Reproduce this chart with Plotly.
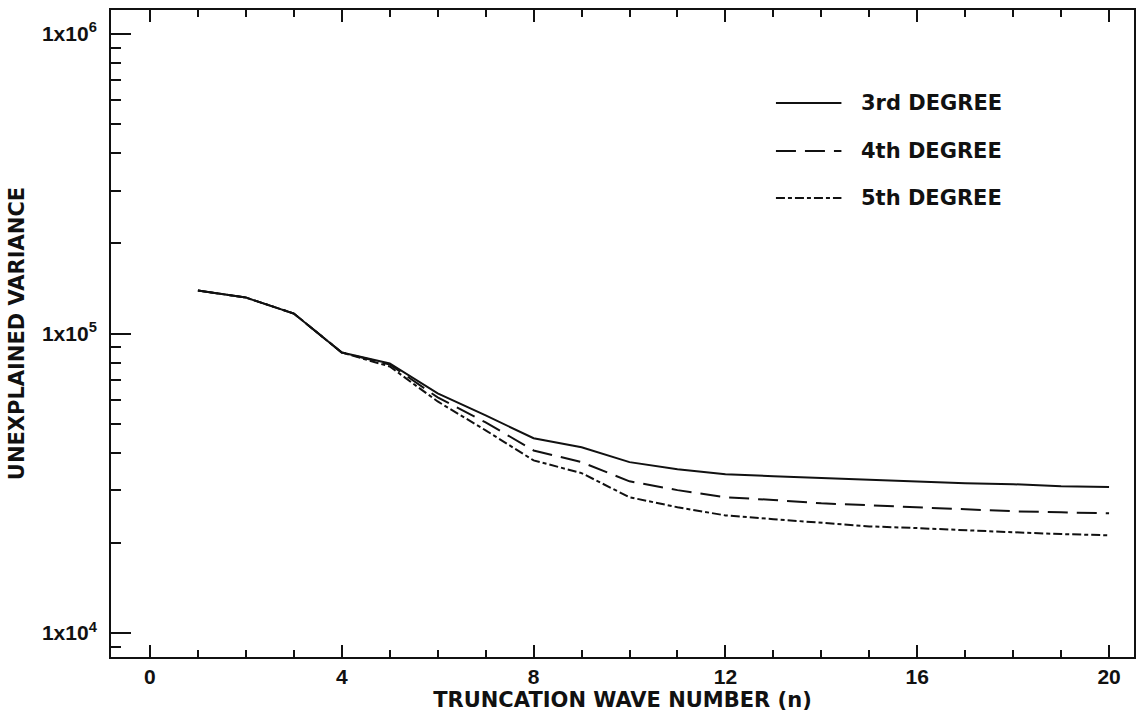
import plotly.graph_objects as go

# ---- data ----
wave_number = list(range(1, 21))
deg3 = [139100, 131800, 116600, 86400, 79400, 63100, 53300, 44700, 41700, 37200,
        35200, 33900, 33400, 32900, 32400, 31900, 31600, 31400, 30900, 30700]
deg4 = [139100, 131800, 116600, 86400, 78800, 61200, 50500, 40700, 37200, 32100,
        30000, 28400, 27800, 27100, 26700, 26300, 25900, 25500, 25300, 25100]
deg5 = [139100, 131800, 116600, 86400, 77600, 59300, 47500, 37700, 34200, 28400,
        26300, 24700, 24000, 23300, 22700, 22400, 22000, 21700, 21400, 21200]
series_names = ["3rd DEGREE", "4th DEGREE", "5th DEGREE"]
y_tick_vals = [1e4, 1e5, 1e6]
y_tick_text = ["1x10<sup>4</sup>", "1x10<sup>5</sup>", "1x10<sup>6</sup>"]
x_tick_vals = [0, 4, 8, 12, 16, 20]

INK = "#111111"
dashes = ["solid", "20px,9px", "9px,3px,4px,3px"]
series = [deg3, deg4, deg5]

fig = go.Figure()
for name, ys, dash in zip(series_names, series, dashes):
    fig.add_trace(go.Scatter(x=wave_number, y=ys, mode="lines", name=name,
                             line=dict(color=INK, width=2, dash=dash),
                             showlegend=False))

# custom legend (line samples + labels) in paper coordinates
leg_y = [0.8563, 0.7821, 0.7094]
for name, dash, yy in zip(series_names, dashes, leg_y):
    fig.add_shape(type="line", xref="paper", yref="paper",
                  x0=0.650, x1=0.714, y0=yy, y1=yy,
                  line=dict(color=INK, width=2, dash=dash))
    fig.add_annotation(xref="paper", yref="paper", x=0.7314, y=yy,
                       text=name, showarrow=False, xanchor="left", yanchor="middle",
                       font=dict(family="DejaVu Sans", size=21, color=INK, weight="bold"))

minor_y = [m * 10 ** e for e in (3, 4, 5) for m in range(2, 10)]
minor_y = [v for v in minor_y if 8300 < v < 1.2e6]

tick_font = dict(family="Liberation Sans, Arial", size=21, color=INK, weight="bold")
title_font = dict(family="DejaVu Sans", size=21, color=INK, weight="bold")

fig.update_layout(
    width=1138, height=715,
    margin=dict(l=111, r=2, t=10, b=58),
    paper_bgcolor="white", plot_bgcolor="white",
    xaxis=dict(range=[-0.8125, 20.52], showgrid=False, zeroline=False,
               showline=True, linecolor=INK, linewidth=2, mirror="ticks",
               ticks="inside", ticklen=12, tickwidth=1.5, tickcolor=INK,
               tickvals=x_tick_vals, tickfont=tick_font, ticklabelstandoff=0,
               minor=dict(dtick=1, ticks="inside", ticklen=7, tickwidth=1.5,
                          tickcolor=INK, showgrid=False),
               title=dict(text="TRUNCATION WAVE NUMBER (n)", font=title_font,
                          standoff=2)),
    yaxis=dict(type="log", range=[3.92, 6.08], showgrid=False, zeroline=False,
               showline=True, linecolor=INK, linewidth=2, mirror=True,
               ticks="inside", ticklen=20, tickwidth=1.5, tickcolor=INK,
               tickvals=y_tick_vals, ticktext=y_tick_text, tickfont=tick_font,
               ticklabelstandoff=8,
               minor=dict(tickvals=minor_y, ticks="inside", ticklen=10,
                          tickwidth=1.5, tickcolor=INK, showgrid=False),
               title=dict(text="UNEXPLAINED VARIANCE", font=title_font, standoff=12)),
    yaxis2=dict(type="log", range=[3.92, 6.08], overlaying="y", side="right",
                showgrid=False, zeroline=False, showline=False,
                ticks="inside", ticklen=12, tickwidth=1.5, tickcolor=INK,
                tickvals=y_tick_vals, showticklabels=False),
)

fig.write_html("out.html")
